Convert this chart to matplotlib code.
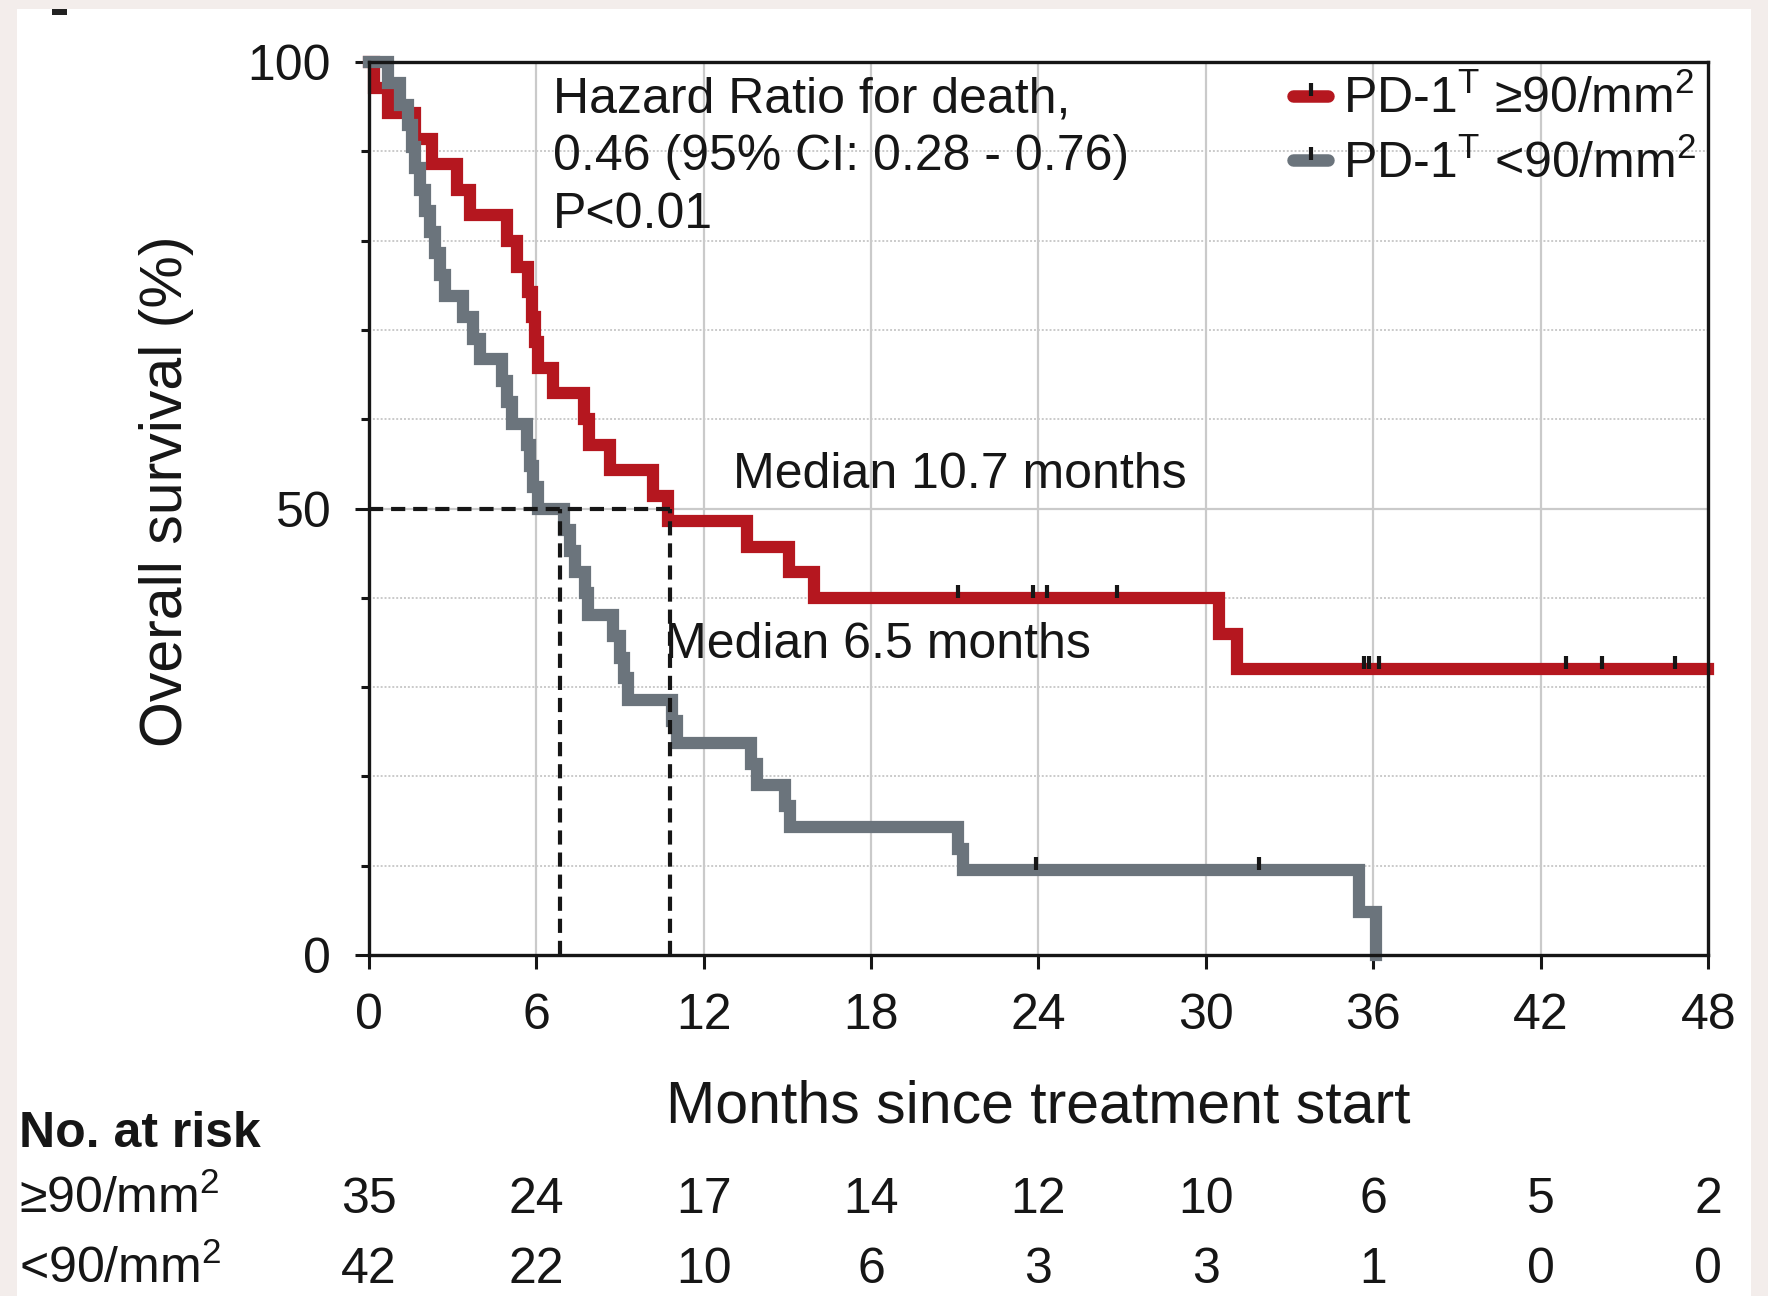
import matplotlib
matplotlib.use("Agg")
import matplotlib.pyplot as plt
from matplotlib.lines import Line2D
from matplotlib.patches import Rectangle
from matplotlib.transforms import blended_transform_factory

plt.rcParams['font.family'] = ['Liberation Sans', 'DejaVu Sans']
plt.rcParams['mathtext.fontset'] = 'custom'
plt.rcParams['mathtext.rm'] = 'Liberation Sans'
plt.rcParams['mathtext.it'] = 'Liberation Sans:italic'
plt.rcParams['mathtext.bf'] = 'Liberation Sans:bold'

RED = '#b5171f'
GRAY = '#6b747c'
GRID = '#cacaca'
BG = '#f3edeb'
INK = '#161616'

# PD-1 >= 90/mm2 : step times (months) and survival (%) after each step
hi_time = [0, 0.2, 0.7, 1.66, 2.26, 3.15, 3.63, 4.94, 5.30, 5.70, 5.85, 5.95,
           6.05, 6.61, 7.70, 7.90, 8.65, 10.2, 10.73, 13.55, 15.06, 15.95,
           30.45, 31.1, 48.0]
hi_surv = [100, 97.1, 94.3, 91.4, 88.6, 85.7, 82.9, 80.0, 77.1, 74.3, 71.4, 68.6,
           65.7, 62.9, 60.0, 57.1, 54.3, 51.4, 48.6, 45.7, 42.9, 40.0,
           36.0, 32.0, 32.0]
hi_cens_time = [21.1, 23.8, 24.3, 26.8, 35.66, 35.86, 36.2, 42.9, 44.2, 46.8]
hi_cens_surv = [40.0, 40.0, 40.0, 40.0, 32.0, 32.0, 32.0, 32.0, 32.0, 32.0]

# PD-1 < 90/mm2
lo_time = [0, 0.69, 1.12, 1.42, 1.54, 1.66, 1.84, 2.02, 2.2, 2.38, 2.55, 2.73,
           3.39, 3.75, 3.99, 4.77, 4.94, 5.12, 5.66, 5.78, 5.90, 6.08, 7.0, 7.2,
           7.4, 7.75, 7.85, 8.75, 9.0, 9.15, 9.3, 10.85, 11.05, 13.7, 13.9, 14.9,
           15.1, 21.1, 21.3, 35.5, 36.1]
lo_surv = [100, 97.6, 95.2, 92.9, 90.5, 88.1, 85.7, 83.3, 81.0, 78.6, 76.2, 73.8,
           71.4, 69.0, 66.7, 64.3, 61.9, 59.5, 57.1, 54.8, 52.4, 50.0, 47.6, 45.2,
           42.9, 40.5, 38.1, 35.7, 33.3, 31.0, 28.6, 26.2, 23.8, 21.4, 19.0, 16.7,
           14.3, 11.9, 9.5, 4.8, 0.0]
lo_cens_time = [23.9, 31.9]
lo_cens_surv = [9.5, 9.5]

median_hi = 10.79
median_lo = 6.87

months = [0, 6, 12, 18, 24, 30, 36, 42, 48]
risk_hi = [35, 24, 17, 14, 12, 10, 6, 5, 2]
risk_lo = [42, 22, 10, 6, 3, 3, 1, 0, 0]

W, H = 1768, 1296
fig = plt.figure(figsize=(W / 100, H / 100), dpi=100, facecolor=BG)
fig.patches.append(Rectangle((17 / W, 0), (1751 - 17) / W, (H - 9) / H,
                             transform=fig.transFigure, facecolor='white',
                             edgecolor='none', zorder=-10))
fig.patches.append(Rectangle((52 / W, 1 - 15 / H), 15 / W, 6 / H,
                             transform=fig.transFigure, facecolor='#222222',
                             edgecolor='none', zorder=-9))

ax = fig.add_axes([368.7 / W, 1 - 955.1 / H, 1339.6 / W, 893.1 / H])
ax.set_facecolor('white')
ax.set_xlim(0, 48)
ax.set_ylim(0, 100)

# grid
for m in months[1:-1]:
    ax.axvline(m, color=GRID, lw=1.6, zorder=1)
for p in range(10, 100, 10):
    if p == 50:
        ax.axhline(p, color=GRID, lw=1.6, zorder=1)
    else:
        ax.axhline(p, color=GRID, lw=1.4, ls=(0, (1, 1)), zorder=1)

# curves
ax.step(hi_time, hi_surv, where='post', color=RED, lw=8.8,
        solid_joinstyle='miter', clip_on=False, zorder=3)
ax.step(lo_time, lo_surv, where='post', color=GRAY, lw=8.8,
        solid_joinstyle='miter', clip_on=False, zorder=4)

tick_marker = [(0, 0), (0, 1)]
ax.plot(hi_cens_time, hi_cens_surv, ls='', marker=tick_marker, mec=INK,
        mew=3, ms=19, zorder=6)
ax.plot(lo_cens_time, lo_cens_surv, ls='', marker=tick_marker, mec=INK,
        mew=3, ms=19, zorder=6)

# median lines
dash = dict(color=INK, lw=3.0, dashes=(3.4, 1.9), zorder=5)
ax.plot([0, median_hi], [50, 50], **dash)
ax.plot([median_lo, median_lo], [0, 50], **dash)
ax.plot([median_hi, median_hi], [0, 50], **dash)

ax.text(6.59, 81.4, 'Hazard Ratio for death,\n0.46 (95% CI: 0.28 - 0.76)\nP<0.01',
        fontsize=36, va='baseline', ha='left', linespacing=1.33, color=INK,
        zorder=7)
ax.text(13.05, 52.3, 'Median 10.7 months', fontsize=36, va='baseline',
        color=INK, zorder=7)
ax.text(10.63, 33.3, 'Median 6.5 months', fontsize=36, va='baseline',
        color=INK, zorder=7)

# axes styling
for s in ax.spines.values():
    s.set_linewidth(2.4)
    s.set_color(INK)
    s.set_zorder(5)
ax.set_xticks(months)
ax.set_yticks([0, 50, 100])
ax.set_yticks(range(0, 101, 10), minor=True)
ax.tick_params(axis='both', which='major', direction='out', length=10, width=2.2,
               labelsize=36, pad=17, colors=INK, labelcolor=INK)
ax.tick_params(axis='y', which='minor', direction='out', length=6, width=2.2,
               colors=INK)

ax.set_xlabel('Months since treatment start', fontsize=42.5, va='baseline',
              color=INK)
ax.xaxis.set_label_coords(0.5, -0.1869)
ax.set_ylabel('Overall survival (%)', fontsize=42.5, va='center', color=INK)
ax.yaxis.set_label_coords(-0.151, 0.519)

# legend
h_hi = (Line2D([], [], color=RED, lw=9, solid_capstyle='round'),
        Line2D([], [], ls='', marker=tick_marker, mec=INK, mew=3, ms=19))
h_lo = (Line2D([], [], color=GRAY, lw=9, solid_capstyle='round'),
        Line2D([], [], ls='', marker=tick_marker, mec=INK, mew=3, ms=19))
leg = ax.legend([h_hi, h_lo],
                ['PD-1$^{\\mathrm{T}}$ ≥90/mm$^{2}$', 'PD-1$^{\\mathrm{T}}$ <90/mm$^{2}$'],
                loc='upper right', bbox_to_anchor=(0.995, 0.991), frameon=False,
                fontsize=36, handlelength=0.7, handletextpad=0.3,
                labelspacing=0.33, borderpad=0.1, borderaxespad=0)
for t in leg.get_texts():
    t.set_color(INK)

# number at risk table
tr = blended_transform_factory(ax.transData, ax.transAxes)
y_hi = (955.1 - 1213) / 893.1
y_lo = (955.1 - 1283) / 893.1
for m, a, b in zip(months, risk_hi, risk_lo):
    ax.text(m, y_hi, str(a), transform=tr, ha='center', va='baseline',
            fontsize=36, color=INK, clip_on=False)
    ax.text(m, y_lo, str(b), transform=tr, ha='center', va='baseline',
            fontsize=36, color=INK, clip_on=False)

fig.text(19 / W, 1 - 1147 / H, 'No. at risk', fontsize=36, weight='bold',
         va='baseline', color=INK)
fig.text(19 / W, 1 - 1213 / H, '≥90/mm$^{2}$', fontsize=36, va='baseline',
         color=INK)
fig.text(19 / W, 1 - 1283 / H, '<90/mm$^{2}$', fontsize=36, va='baseline',
         color=INK)

fig.savefig('out.png', dpi=100, facecolor=BG)
